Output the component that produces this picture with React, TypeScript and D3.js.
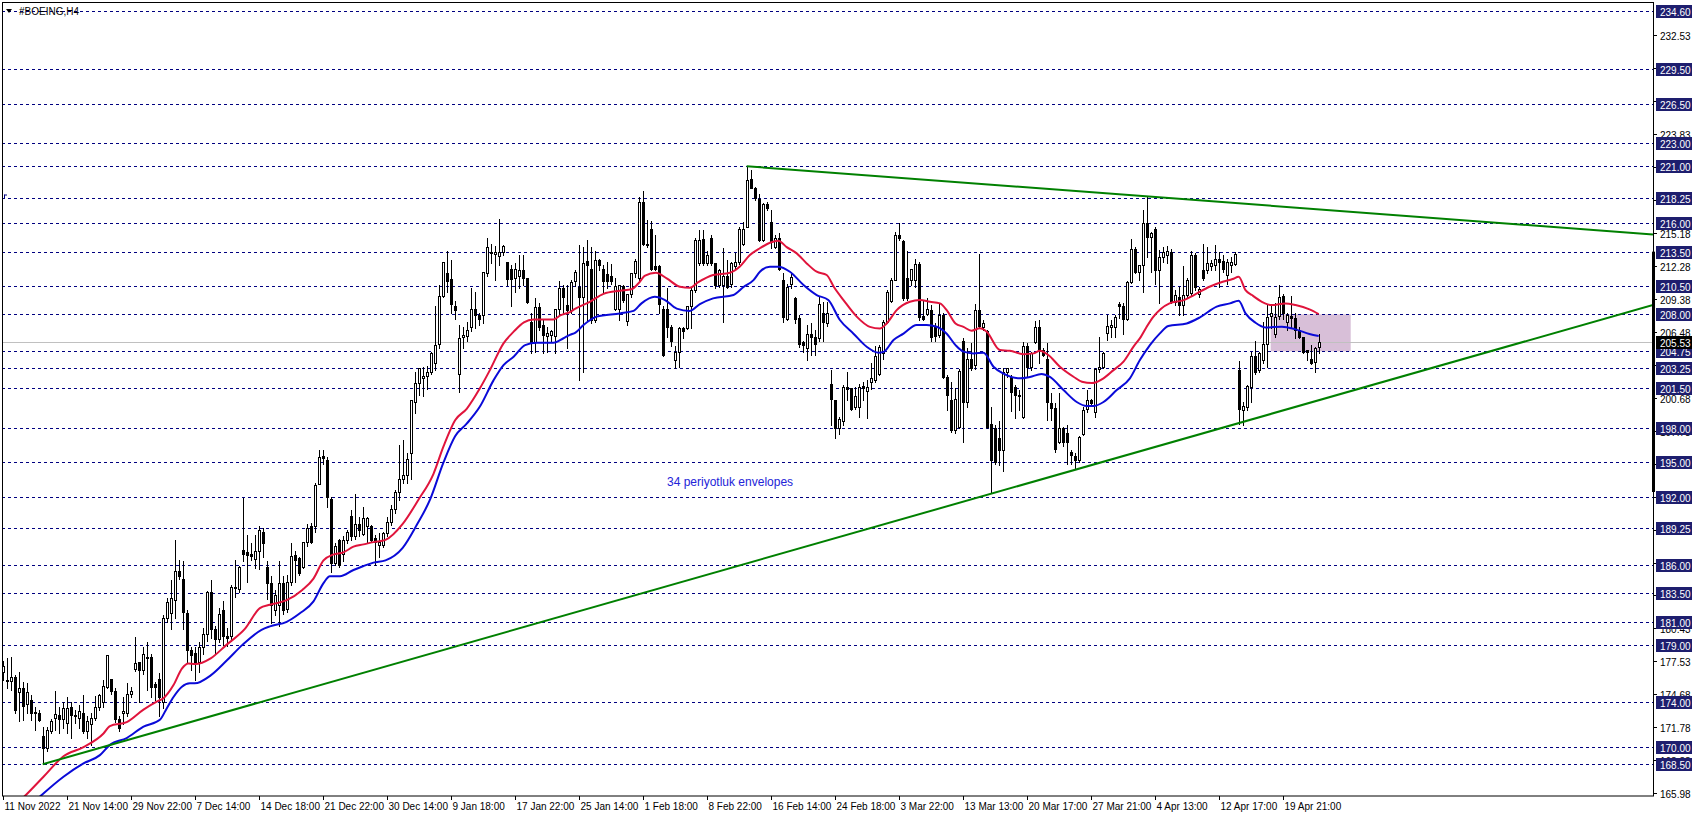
import { useRef, useEffect } from "react";
import * as d3 from "d3";

const W = 1695;
const H = 817;

// H4 bars: [open, high, low, close]
const bars: [number, number, number, number][] = [
  [176.6, 177.6, 175.9, 177.1], [175.8, 177.8, 175.2, 175.9], [175.8, 177.9, 175.0, 176.2], [176.2, 176.3, 173.0, 173.3], [174.8, 176.6, 172.3, 175.2],
  [175.2, 175.7, 172.4, 173.6], [173.75, 175.65, 173.0, 174.8], [174.1, 174.6, 172.4, 173.0], [173.1, 173.5, 171.5, 173.0], [173.0, 173.3, 172.3, 172.4],
  [171.0, 171.8, 168.5, 169.9], [169.9, 171.8, 169.7, 171.5], [171.4, 172.5, 171.2, 172.3], [172.6, 174.9, 171.5, 172.9], [172.8, 173.5, 171.2, 172.5],
  [172.5, 174.0, 171.65, 173.4], [172.1, 174.4, 171.2, 173.4], [173.5, 174.0, 170.8, 172.8], [172.8, 173.25, 172.1, 172.7], [172.6, 173.7, 171.7, 173.2],
  [173.0, 174.6, 171.2, 171.4], [171.4, 172.7, 170.8, 172.3], [172.0, 173.0, 170.2, 172.6], [172.6, 174.5, 172.4, 173.5], [173.5, 174.7, 173.3, 174.6],
  [174.0, 175.9, 173.5, 175.4], [175.3, 178.1, 175.2, 178.1], [175.95, 176.0, 174.7, 174.9], [174.9, 175.2, 172.2, 172.5], [172.5, 172.7, 171.4, 171.7],
  [173.0, 174.4, 172.0, 173.2], [173.0, 175.65, 172.7, 174.7], [174.7, 175.3, 174.4, 174.95], [176.85, 179.7, 176.7, 177.4], [177.5, 177.5, 174.0, 176.8],
  [176.8, 178.8, 176.4, 178.2], [177.8, 179.25, 175.0, 177.9], [177.9, 178.2, 174.4, 175.3], [175.5, 175.7, 174.1, 175.3], [176.0, 176.5, 172.7, 174.4],
  [174.0, 181.6, 173.4, 181.3], [181.3, 183.1, 181.0, 182.7], [181.8, 184.7, 180.4, 183.1], [182.9, 188.2, 181.3, 185.5], [185.5, 186.4, 184.8, 185.0],
  [184.8, 186.3, 180.4, 181.9], [181.8, 182.0, 177.5, 178.5], [178.5, 178.8, 176.8, 178.1], [178.3, 178.8, 175.9, 177.5], [177.5, 179.2, 176.6, 178.8],
  [178.8, 180.5, 178.2, 179.9], [179.9, 183.7, 179.3, 183.6], [183.6, 184.7, 179.6, 180.4], [180.4, 180.6, 178.3, 179.5], [179.5, 182.2, 179.2, 181.7],
  [182.0, 182.8, 179.0, 179.8], [179.8, 180.5, 178.9, 179.6], [179.8, 184.2, 179.3, 184.1], [183.95, 186.4, 183.2, 184.1], [183.9, 185.9, 183.6, 185.8],
  [187.3, 191.9, 186.3, 187.0], [187.1, 188.6, 184.5, 186.9], [187.0, 187.9, 186.4, 186.8], [186.5, 188.6, 185.7, 187.2], [187.2, 189.4, 185.6, 189.1],
  [188.9, 189.2, 186.7, 187.9], [185.8, 186.3, 183.0, 184.4], [184.4, 185.0, 180.9, 182.5], [182.0, 183.8, 181.6, 183.35], [182.5, 186.3, 180.6, 184.4],
  [184.4, 185.0, 181.7, 182.0], [182.1, 185.1, 181.9, 184.5], [184.5, 187.9, 184.2, 186.8], [186.9, 187.2, 184.5, 186.4], [186.6, 186.7, 185.1, 185.3],
  [185.8, 188.0, 185.7, 188.0], [188.0, 189.6, 187.7, 189.2], [189.4, 189.7, 187.9, 188.0], [189.4, 193.2, 188.9, 193.0], [193.1, 196.1, 193.1, 195.5],
  [195.6, 196.1, 194.9, 195.35], [195.2, 195.5, 191.1, 192.0], [191.8, 192.0, 185.4, 186.2], [186.2, 187.9, 186.0, 187.7], [188.2, 188.3, 185.8, 186.0],
  [187.0, 188.5, 186.3, 188.2], [188.2, 189.05, 187.9, 188.9], [190.3, 190.8, 188.2, 188.5], [188.5, 192.2, 188.3, 189.6], [189.6, 190.2, 188.5, 189.1],
  [188.7, 191.1, 188.6, 190.1], [189.4, 190.2, 187.9, 190.1], [189.4, 189.5, 188.0, 188.2], [188.4, 188.6, 186.0, 188.0], [187.75, 188.8, 186.7, 188.0],
  [187.75, 188.9, 187.6, 188.8], [188.8, 190.2, 188.5, 189.8], [189.8, 191.3, 189.5, 190.9], [190.9, 192.6, 190.6, 192.4], [192.4, 196.5, 191.7, 193.5],
  [193.5, 196.95, 193.2, 193.9], [193.9, 195.8, 193.2, 195.3], [195.8, 200.5, 193.5, 200.5], [200.3, 202.96, 199.3, 202.0], [202.0, 203.25, 200.9, 203.25],
  [202.4, 203.4, 200.8, 202.6], [202.6, 203.5, 201.4, 202.9], [202.9, 204.7, 202.8, 204.6], [203.7, 208.7, 203.1, 205.3], [205.4, 210.6, 205.0, 209.6],
  [209.6, 212.6, 209.5, 212.6], [211.6, 213.6, 210.0, 210.95], [211.1, 212.8, 208.1, 208.9], [208.7, 209.2, 207.6, 208.4], [202.8, 207.1, 201.2, 205.9],
  [206.0, 206.9, 205.0, 206.2], [206.1, 207.3, 205.7, 206.6], [206.9, 210.3, 206.5, 208.5], [208.5, 210.0, 206.8, 207.9], [207.9, 208.1, 207.1, 207.6],
  [207.9, 211.7, 207.2, 211.7], [211.65, 214.7, 211.4, 213.9], [213.35, 214.2, 212.5, 213.5], [213.3, 214.0, 211.0, 213.5], [213.1, 216.4, 212.3, 213.5],
  [213.5, 214.1, 213.2, 214.0], [212.6, 212.6, 210.6, 211.1], [212.0, 212.3, 208.7, 211.1], [211.2, 212.5, 210.0, 212.0], [211.4, 213.2, 210.3, 211.9],
  [211.9, 213.2, 210.6, 211.2], [211.15, 211.2, 208.96, 209.1], [207.3, 208.1, 204.6, 205.6], [205.6, 209.4, 204.7, 208.6], [208.6, 208.96, 206.6, 206.9],
  [207.1, 207.5, 204.6, 206.2], [206.1, 206.9, 204.7, 206.4], [206.2, 206.6, 205.7, 206.5], [206.1, 208.5, 204.6, 208.5], [208.5, 210.9, 207.9, 210.3],
  [210.3, 210.6, 208.1, 209.5], [208.8, 210.6, 205.0, 208.4], [208.4, 211.0, 208.1, 210.8], [210.9, 211.9, 210.5, 211.7], [210.4, 214.1, 202.2, 209.5],
  [209.5, 213.9, 202.96, 212.5], [212.7, 214.5, 207.5, 212.3], [212.0, 213.9, 207.2, 207.5], [207.5, 213.6, 207.35, 212.8], [212.8, 212.9, 211.9, 212.3],
  [212.0, 212.3, 210.0, 210.9], [211.5, 212.6, 210.3, 210.9], [211.4, 212.45, 210.7, 210.9], [208.5, 211.2, 208.4, 210.5], [208.5, 210.6, 207.5, 210.6],
  [210.5, 210.6, 209.1, 209.3], [207.4, 209.8, 207.05, 209.8], [209.8, 211.65, 209.5, 211.6], [211.6, 212.9, 211.3, 212.7], [211.2, 218.3, 211.0, 217.9],
  [217.9, 218.8, 214.1, 214.2], [214.1, 216.3, 213.9, 214.2], [215.5, 216.2, 211.9, 212.0], [212.2, 214.96, 211.9, 212.0], [212.2, 212.3, 208.1, 208.9],
  [208.5, 208.7, 204.3, 204.4], [208.5, 210.3, 206.0, 206.9], [206.9, 207.05, 205.2, 205.7], [204.0, 205.2, 203.25, 204.7], [204.7, 206.9, 203.4, 206.8],
  [206.8, 206.9, 205.9, 206.5], [206.8, 208.7, 206.7, 208.7], [208.7, 210.4, 206.8, 210.1], [210.1, 214.7, 210.0, 214.5], [212.5, 215.4, 212.3, 214.5],
  [214.6, 215.4, 212.3, 212.5], [212.5, 213.6, 212.3, 213.2], [214.7, 214.96, 212.3, 212.5], [212.5, 212.5, 210.3, 210.6], [210.6, 212.0, 210.4, 211.9],
  [210.6, 213.8, 207.3, 211.4], [211.4, 212.8, 210.3, 210.4], [210.7, 212.6, 210.4, 212.5], [212.2, 213.4, 212.0, 212.6], [212.6, 215.7, 212.4, 215.5],
  [214.2, 216.1, 214.1, 215.5], [215.7, 221.0, 215.7, 219.8], [219.85, 220.7, 219.05, 219.1], [219.1, 219.2, 218.0, 218.2], [218.1, 218.6, 214.4, 214.5],
  [214.5, 217.8, 214.4, 217.7], [217.7, 217.9, 217.15, 217.3], [216.1, 217.2, 213.8, 214.4], [213.9, 215.0, 213.8, 214.7], [214.7, 215.1, 211.9, 212.0],
  [211.0, 211.6, 207.35, 207.8], [207.6, 210.7, 207.5, 210.4], [210.7, 211.7, 210.3, 211.3], [209.4, 209.5, 207.2, 207.6], [207.7, 207.9, 205.15, 205.4],
  [205.6, 205.7, 204.7, 205.3], [205.0, 207.1, 204.0, 206.3], [206.3, 207.2, 204.4, 206.0], [206.0, 206.6, 204.4, 205.4], [205.9, 209.5, 205.7, 208.9],
  [208.1, 209.1, 205.7, 207.3], [207.2, 209.1, 207.0, 208.1], [201.9, 203.1, 198.3, 200.6], [200.5, 200.5, 197.1, 198.0], [198.0, 199.0, 197.5, 198.8],
  [198.6, 201.8, 198.3, 201.6], [201.6, 202.96, 200.5, 201.4], [201.5, 201.5, 199.6, 199.7], [199.9, 201.6, 199.7, 200.8], [199.9, 201.9, 199.0, 201.6],
  [201.7, 202.1, 200.5, 201.5], [201.3, 202.2, 198.9, 201.6], [202.1, 203.7, 201.4, 202.4], [202.2, 205.2, 202.1, 204.3], [202.8, 205.3, 202.7, 205.1],
  [204.6, 207.5, 204.1, 207.3], [207.3, 210.1, 207.2, 210.0], [209.2, 211.15, 209.1, 211.0], [211.0, 215.25, 211.0, 214.96], [214.96, 215.98, 214.5, 214.7],
  [214.4, 214.5, 209.3, 209.4], [211.15, 213.6, 209.25, 209.4], [211.0, 212.0, 210.6, 211.95], [211.0, 212.9, 210.4, 212.4], [212.4, 212.6, 207.5, 207.8],
  [207.85, 209.2, 207.5, 207.6], [208.0, 209.4, 207.9, 208.5], [208.4, 208.8, 205.7, 206.0], [207.0, 207.2, 205.7, 206.1], [206.2, 208.96, 206.0, 207.9],
  [207.9, 208.1, 202.4, 202.5], [202.5, 202.7, 199.6, 200.9], [200.5, 202.1, 197.7, 197.8], [197.85, 201.5, 197.55, 200.6], [198.1, 203.2, 198.0, 203.05],
  [205.7, 205.9, 196.8, 200.3], [200.3, 205.0, 199.9, 204.1], [204.1, 205.45, 203.1, 203.25], [203.55, 208.9, 203.2, 208.4], [208.4, 213.3, 206.9, 206.97],
  [206.9, 207.5, 206.6, 207.2], [206.5, 206.6, 198.0, 198.1], [198.35, 199.9, 192.3, 195.2], [197.99, 198.3, 194.9, 195.06], [197.1, 198.6, 194.8, 196.1],
  [196.1, 203.25, 194.2, 202.9], [202.9, 203.25, 202.5, 203.25], [202.5, 202.7, 199.5, 201.2], [201.6, 201.8, 198.9, 200.9], [200.9, 201.35, 199.6, 200.95],
  [199.0, 205.6, 198.9, 205.2], [205.2, 205.45, 202.5, 203.4], [203.4, 204.7, 203.1, 204.6], [205.6, 207.4, 205.45, 206.9], [206.9, 207.5, 203.7, 204.8],
  [204.9, 205.0, 204.3, 204.4], [204.1, 205.45, 198.7, 200.3], [200.2, 201.05, 198.7, 199.75], [199.75, 200.2, 195.9, 196.2], [196.8, 201.05, 196.7, 197.99],
  [197.99, 198.1, 196.4, 196.8], [197.6, 198.3, 194.9, 196.8], [195.94, 196.1, 194.9, 195.65], [195.6, 195.8, 194.5, 195.2], [195.2, 197.3, 195.06, 197.2],
  [197.5, 199.9, 197.4, 199.6], [199.7, 201.35, 199.4, 200.5], [200.5, 200.6, 200.1, 200.2], [199.45, 203.25, 199.0, 203.2], [203.2, 206.0, 202.96, 203.35],
  [203.35, 204.7, 203.25, 204.6], [206.4, 207.9, 205.74, 207.0], [206.9, 207.5, 206.0, 207.05], [206.9, 207.9, 206.0, 207.8], [208.9, 209.1, 207.65, 208.7],
  [208.7, 208.96, 206.3, 207.55], [207.55, 210.9, 207.5, 210.8], [210.8, 214.6, 210.77, 213.7], [213.7, 213.9, 211.6, 211.7], [211.7, 212.3, 211.0, 212.3],
  [212.3, 217.2, 209.97, 215.98], [216.0, 218.3, 213.06, 214.8], [214.8, 215.25, 211.7, 215.1], [215.5, 215.7, 210.7, 211.9], [211.9, 213.64, 208.96, 213.06],
  [213.06, 213.9, 212.6, 213.5], [213.2, 214.0, 212.5, 213.6], [213.5, 213.7, 208.96, 209.1], [209.1, 210.1, 208.8, 209.7], [209.5, 210.4, 207.9, 208.8],
  [208.8, 212.2, 207.9, 209.7], [209.7, 211.2, 209.4, 211.0], [209.9, 213.6, 209.7, 213.2], [213.2, 213.35, 210.1, 210.4], [209.8, 210.4, 209.55, 210.2],
  [211.9, 214.2, 211.0, 211.2], [211.9, 213.9, 211.6, 212.5], [212.2, 212.8, 211.9, 212.5], [212.3, 214.1, 211.9, 212.9], [212.9, 213.5, 210.4, 212.6],
  [212.7, 213.2, 211.7, 212.0], [211.45, 212.9, 210.7, 212.6], [212.3, 213.06, 211.7, 212.6], [212.4, 213.5, 212.3, 213.3], [203.1, 203.9, 198.4, 199.65],
  [199.6, 200.3, 198.3, 199.95], [199.9, 201.8, 199.6, 201.7], [201.65, 204.7, 200.3, 204.3], [204.3, 205.7, 202.8, 202.96], [203.1, 204.7, 202.9, 204.6],
  [204.0, 207.35, 203.7, 205.4], [205.4, 208.8, 203.4, 207.8], [207.85, 208.8, 206.8, 208.1], [206.3, 208.96, 206.0, 207.8], [207.85, 210.6, 207.6, 209.5],
  [209.6, 209.8, 207.6, 208.1], [207.35, 208.1, 206.6, 207.9], [207.85, 209.6, 206.9, 207.7], [207.7, 208.1, 205.9, 206.6], [206.6, 206.9, 205.9, 206.0],
  [206.0, 206.0, 204.6, 204.7], [204.85, 204.9, 204.0, 204.7], [204.1, 205.3, 203.6, 203.7], [203.85, 205.1, 202.96, 205.0], [205.1, 206.3, 204.6, 205.53],
];

// envelope lines: [bar index, price]
const upperEnvelope: [number, number][] = [
  [0, 163.9], [5.8, 165.8], [10.2, 167.4], [15.2, 169.2], [20.2, 170.0], [25.2, 171.2], [26.8, 171.85], [31, 172.2], [35.2, 173.3],
  [38.5, 174.0], [40.2, 174.3], [42.7, 175.45], [44.8, 176.9], [46.4, 177.35], [48.1, 177.3], [52, 177.8], [56, 179.0], [60.6, 180.4],
  [64.3, 182.2], [66.8, 182.5], [71, 182.9], [74.9, 183.8], [77.7, 184.8], [80.2, 186.4], [82.6, 186.9], [85.2, 187.1], [87.7, 187.6],
  [90.2, 187.8], [92.7, 188.0], [95.7, 188.2], [100, 189.6], [103.9, 191.7], [107.7, 194.0], [110.2, 196.4], [113.1, 198.7], [116, 199.7],
  [119.3, 201.5], [121.8, 203.1], [125.2, 205.45], [127.8, 206.5], [130.3, 207.3], [132.7, 207.55], [137.7, 207.55], [139.4, 207.9],
  [141.8, 208.2], [143.2, 208.5], [146.8, 209.1], [150.2, 209.8], [154.3, 210.07], [157.2, 210.2], [158.9, 210.7], [160.6, 211.4],
  [163.3, 211.65], [166, 211.15], [169.3, 210.42], [171.8, 210.33], [173.8, 210.8], [177.6, 211.45], [181.8, 211.65], [184.3, 212.2],
  [186.8, 213.2], [189.3, 213.8], [191.8, 214.28], [193.9, 214.46], [196, 213.9], [198.5, 213.35], [201, 212.47], [203.5, 211.74],
  [206, 211.45], [207.8, 210.4], [210.2, 209.25], [213.5, 207.8], [216.8, 206.9], [219.3, 206.76], [221, 207.2], [223.5, 208.37],
  [226.8, 209.1], [229.3, 209.25], [231.8, 209.1], [234.3, 208.96], [236, 208.37], [238.2, 207.2], [240.2, 206.9], [242.2, 206.56],
  [244.3, 206.77], [246, 206.47], [249.3, 204.86], [251.8, 204.8], [255.2, 204.5], [257.7, 204.57], [259.3, 204.8], [261.4, 204.43],
  [264.3, 203.4], [267.7, 202.52], [269.8, 202.08], [272.3, 201.96], [275.2, 202.38], [277.7, 203.1], [280.2, 203.84], [282.7, 205.16],
  [284.5, 206.0], [286, 206.9], [287.7, 207.79], [291.7, 208.96], [295.3, 209.25], [297.8, 209.69], [301.7, 210.42], [305, 210.86],
  [307.5, 211.1], [309, 211.3], [310.7, 210.13], [312.3, 209.69], [314.8, 209.1], [317.3, 208.81], [320.6, 208.96], [323.2, 208.81],
  [326.7, 208.43], [329, 208.02],
];

const lowerEnvelope: [number, number][] = [
  [0, 162.5], [9.75, 165.8], [15.2, 167.4], [20.2, 168.57], [24.3, 169.3], [26.8, 170.2], [31, 170.8], [35.2, 171.8], [39.3, 172.4],
  [41, 173.4], [42.7, 174.4], [44.8, 175.3], [46.8, 175.6], [48, 175.6], [52, 176.3], [56, 177.6], [60, 179.0], [64.7, 180.3],
  [66.8, 180.6], [71, 181.0], [74.3, 181.75], [77.7, 182.8], [80.2, 184.4], [81.8, 185.0], [84.3, 185.0], [87.7, 185.55], [90.2, 185.9],
  [92.7, 186.2], [95.7, 186.4], [100, 187.5], [103.5, 189.5], [106.8, 191.7], [110.2, 195.0], [113.1, 197.3], [116, 198.4], [119.3, 199.9],
  [122.7, 202.2], [125.2, 203.54], [127.8, 204.3], [130.6, 205.3], [133.5, 205.5], [137.7, 205.5], [140.2, 205.9], [141.8, 206.2],
  [143.2, 206.4], [145.2, 207.06], [148.5, 207.8], [154.3, 208.08], [157.7, 208.3], [159.7, 208.96], [163, 209.54], [165.6, 209.25],
  [168.5, 208.5], [171.8, 208.3], [174.3, 208.9], [177.6, 209.4], [182.7, 209.7], [185.2, 210.4], [187.7, 211.0], [189.3, 211.74],
  [191.8, 212.18], [193.9, 212.18], [196.8, 211.74], [200.2, 210.57], [203.5, 209.69], [206.4, 209.25], [209.3, 207.5], [212.7, 206.3],
  [216, 205.15], [219, 204.63], [220.2, 204.7], [222.7, 205.74], [225.2, 206.3], [228.5, 207.06], [231, 207.06], [233.5, 206.91],
  [236, 206.3], [238.2, 205.3], [240.2, 204.72], [242.7, 204.57], [245.2, 204.63], [247.7, 203.4], [250.2, 202.8], [254.3, 202.38],
  [256.8, 202.5], [259.7, 202.76], [261.8, 202.5], [265.2, 201.35], [268.5, 200.3], [271, 199.95], [272.7, 199.95], [275.2, 200.3],
  [278.5, 201.35], [281.8, 202.38], [284.3, 203.98], [286.8, 205.3], [289.3, 206.33], [291.4, 206.97], [296, 207.2], [299.3, 207.73],
  [303.5, 208.67], [306.8, 208.96], [309, 209.19], [310.7, 208.08], [313.2, 207.26], [315.7, 206.85], [319.8, 206.91], [323.2, 206.68],
  [326.7, 206.27], [329, 206.1],
];

// horizontal level objects (navy dashed, labelled on the price scale)
const levels = [
  234.6, 229.5, 226.5, 223.0, 221.0, 218.25, 216.0, 213.5, 210.5, 208.0, 204.75, 203.25, 201.5, 198.0, 195.0, 192.0, 189.25, 186.0,
  183.5, 181.0, 179.0, 174.0, 170.0, 168.5,
];

// plain price scale ticks
const priceTicks = [
  232.53, 229.63, 226.73, 223.83, 220.93, 218.03, 215.18, 212.28, 209.38, 206.48, 203.58, 200.68, 197.78, 194.88, 191.98, 189.08,
  186.18, 183.33, 180.43, 177.53, 174.68, 171.78, 168.88, 165.98,
];

const timeLabels = [
  "11 Nov 2022", "21 Nov 14:00", "29 Nov 22:00", "7 Dec 14:00", "14 Dec 18:00", "21 Dec 22:00", "30 Dec 14:00", "9 Jan 18:00",
  "17 Jan 22:00", "25 Jan 14:00", "1 Feb 18:00", "8 Feb 22:00", "16 Feb 14:00", "24 Feb 18:00", "3 Mar 22:00", "13 Mar 13:00",
  "20 Mar 17:00", "27 Mar 21:00", "4 Apr 13:00", "12 Apr 17:00", "19 Apr 21:00",
];
const labelEvery = 16;

// trend lines: two anchor points each [bar index, price]
const resistanceLine: [number, number][] = [[186, 221.0], [290, 218.25]];
const supportLine: [number, number][] = [[10, 168.5], [250, 192.54]];

const zoneBars = [317, 337];
const zonePrices = [204.75, 208.0];
const sideBarPrices = [192.4, 213.5];
const lastPrice = 205.53;

const FONT = "'Liberation Sans', Arial, sans-serif";

const App = () => {
  const ref = useRef<SVGSVGElement>(null);

  useEffect(() => {
    if (!ref.current) return;
    const svg = d3.select(ref.current);
    svg.selectAll("*").remove();

    const left = 2;
    const top = 2;
    const right = 1653;
    const bottom = 796;

    const n = bars.length;
    const x = d3.scaleLinear().domain([0, n - 1]).range([2.7, 2.7 + 4 * (n - 1)]);
    const y = d3.scaleLinear().domain([165.71, 235.42]).range([bottom, top]);
    const px = (i: number) => Math.round(x(i)) + 0.5;
    const py = (v: number) => Math.round(y(v)) + 0.5;

    svg.append("rect").attr("width", W).attr("height", H).attr("fill", "#fff");

    svg
      .append("defs")
      .append("clipPath")
      .attr("id", "plot-clip")
      .append("rect")
      .attr("x", left)
      .attr("y", top)
      .attr("width", right - left)
      .attr("height", bottom - top);

    const plot = svg.append("g").attr("clip-path", "url(#plot-clip)");

    // rectangle zone
    plot
      .append("rect")
      .attr("x", x(zoneBars[0]))
      .attr("width", x(zoneBars[1]) - x(zoneBars[0]))
      .attr("y", y(zonePrices[1]))
      .attr("height", y(zonePrices[0]) - y(zonePrices[1]))
      .attr("fill", "#d8bfd8");

    // level lines
    plot
      .selectAll(".level")
      .data(levels)
      .join("line")
      .attr("x1", left)
      .attr("x2", right)
      .attr("y1", (d) => py(d))
      .attr("y2", (d) => py(d))
      .attr("stroke", "#000080")
      .attr("stroke-dasharray", "3,3");

    // small anchor mark of the 218.25 object
    plot
      .append("path")
      .attr("d", `M4.5,${py(218.25) - 4} V${py(218.25)} M4.5,${py(218.25) - 3.5} H7`)
      .attr("stroke", "#000080")
      .attr("fill", "none");

    // last price line
    plot
      .append("line")
      .attr("x1", left)
      .attr("x2", right)
      .attr("y1", py(lastPrice))
      .attr("y2", py(lastPrice))
      .attr("stroke", "#c0c0c0");

    // candles
    const candle = plot.append("g").selectAll("g").data(bars).join("g");
    candle
      .append("line")
      .attr("x1", (_d, i) => px(i))
      .attr("x2", (_d, i) => px(i))
      .attr("y1", (d) => Math.round(y(d[1])))
      .attr("y2", (d) => Math.round(y(d[2])) + 1)
      .attr("stroke", "#000");
    candle
      .append("rect")
      .attr("x", (_d, i) => px(i) - 1)
      .attr("width", 2)
      .attr("y", (d) => py(Math.max(d[0], d[3])))
      .attr("height", (d) => Math.max(1, py(Math.min(d[0], d[3])) - py(Math.max(d[0], d[3]))))
      .attr("fill", (d) => (d[3] >= d[0] ? "#fff" : "#000"))
      .attr("stroke", "#000");

    // envelopes
    const env = d3
      .line<[number, number]>()
      .x((d) => x(d[0]))
      .y((d) => y(d[1]))
      .curve(d3.curveMonotoneX);
    plot.append("path").datum(upperEnvelope).attr("d", env).attr("fill", "none").attr("stroke", "#e0143c").attr("stroke-width", 2);
    plot.append("path").datum(lowerEnvelope).attr("d", env).attr("fill", "none").attr("stroke", "#0a0ad8").attr("stroke-width", 2);

    // trend lines, extended to the right edge
    const endBar = x.invert(right);
    [resistanceLine, supportLine].forEach(([a, b]) => {
      const slope = (b[1] - a[1]) / (b[0] - a[0]);
      plot
        .append("line")
        .attr("x1", x(a[0]))
        .attr("y1", y(a[1]))
        .attr("x2", x(endBar))
        .attr("y2", y(a[1] + slope * (endBar - a[0])))
        .attr("stroke", "#008000")
        .attr("stroke-width", 2);
    });

    plot
      .append("text")
      .attr("x", 667)
      .attr("y", 486)
      .attr("font-family", FONT)
      .attr("font-size", 12)
      .attr("fill", "#2323d8")
      .text("34 periyotluk envelopes");

    // frame
    svg
      .append("rect")
      .attr("x", left + 0.5)
      .attr("y", top + 0.5)
      .attr("width", right - left)
      .attr("height", bottom - top - 0.5)
      .attr("fill", "none")
      .attr("stroke", "#000");

    svg
      .append("rect")
      .attr("x", right - 1)
      .attr("width", 3)
      .attr("y", y(sideBarPrices[1]))
      .attr("height", y(sideBarPrices[0]) - y(sideBarPrices[1]))
      .attr("fill", "#000");

    // price scale
    const axis = svg.append("g").attr("font-family", FONT).attr("font-size", 10);
    const tick = axis.selectAll(".ptick").data(priceTicks).join("g");
    tick
      .append("line")
      .attr("x1", right)
      .attr("x2", right + 4)
      .attr("y1", (d) => py(d))
      .attr("y2", (d) => py(d))
      .attr("stroke", "#000");
    tick
      .append("text")
      .attr("x", right + 7)
      .attr("y", (d) => py(d) + 4)
      .attr("fill", "#000")
      .text((d) => d.toFixed(2));

    const lvl = axis.selectAll(".plevel").data(levels).join("g");
    lvl
      .append("rect")
      .attr("x", right + 3)
      .attr("y", (d) => py(d) - 6.5)
      .attr("width", 36)
      .attr("height", 13)
      .attr("fill", "#1e1e6e");
    lvl
      .append("text")
      .attr("x", right + 7)
      .attr("y", (d) => py(d) + 4)
      .attr("fill", "#fff")
      .text((d) => d.toFixed(2));

    axis
      .append("rect")
      .attr("x", right + 3)
      .attr("y", py(lastPrice) - 6.5)
      .attr("width", 36)
      .attr("height", 13)
      .attr("fill", "#000");
    axis
      .append("text")
      .attr("x", right + 7)
      .attr("y", py(lastPrice) + 4)
      .attr("fill", "#fff")
      .text(lastPrice.toFixed(2));

    // time scale
    const tt = axis.selectAll(".ttick").data(timeLabels).join("g");
    tt.append("line")
      .attr("x1", (_d, k) => px(k * labelEvery))
      .attr("x2", (_d, k) => px(k * labelEvery))
      .attr("y1", bottom)
      .attr("y2", bottom + 4)
      .attr("stroke", "#000");
    tt.append("text")
      .attr("x", (_d, k) => px(k * labelEvery) + 1)
      .attr("y", bottom + 14)
      .attr("fill", "#000")
      .text((d) => d);

    // title
    svg.append("path").attr("d", "M6,9 L12,9 L9,13 Z").attr("fill", "#000");
    svg
      .append("text")
      .attr("x", 19)
      .attr("y", 15)
      .attr("font-family", FONT)
      .attr("font-size", 10)
      .attr("fill", "#000")
      .text("#BOEING,H4");

    return () => {
      svg.selectAll("*").remove();
    };
  }, []);

  return (
    <svg
      ref={ref}
      width={W}
      height={H}
      style={{ position: "absolute", left: 0, top: 0, display: "block" }}
    />
  );
};

export default App;
